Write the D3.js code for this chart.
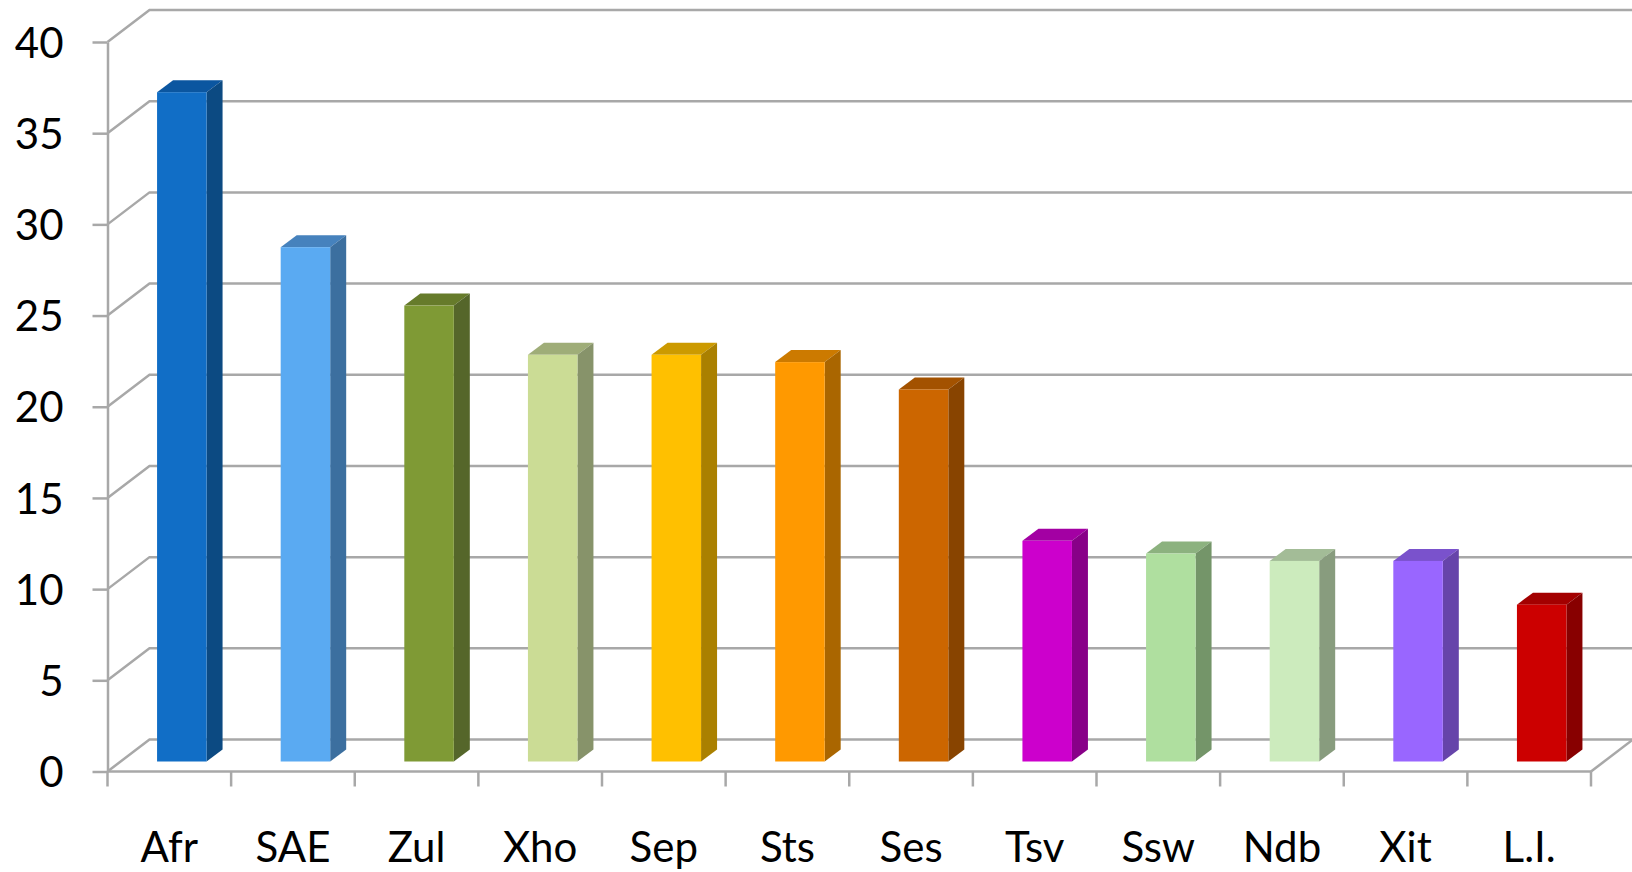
<!DOCTYPE html>
<html>
<head>
<meta charset="utf-8">
<script src="https://cdn.jsdelivr.net/npm/d3@7"></script>
<style>
  html, body { margin: 0; padding: 0; background: #fff; overflow: hidden; }
  svg { display: block; }
  text { font-family: Lato, "Open Sans", sans-serif; fill: #000; }
</style>
</head>
<body>
<svg id="chart" width="1632" height="872"></svg>
<script>
// Languages and their shares
const categories = ["Afr", "SAE", "Zul", "Xho", "Sep", "Sts", "Ses", "Tsv", "Ssw", "Ndb", "Xit", "L.I."];
const values = [36.7, 28.2, 25.0, 22.3, 22.3, 21.9, 20.4, 12.1, 11.4, 11.0, 11.0, 8.6];
const yTicks = [0, 5, 10, 15, 20, 25, 30, 35, 40];
const frontColors = ["#116ec6", "#5aaaf2", "#7f9a35", "#cbdc95", "#ffc000", "#ff9900", "#cc6600", "#cc00cc", "#afdf9f", "#ccebbd", "#9966ff", "#cc0000"];
const sideColors = ["#0c4a82", "#3c6f9f", "#55662a", "#87936a", "#aa8000", "#aa6600", "#884400", "#880088", "#749569", "#889c7e", "#6644aa", "#880000"];
const topColors = ["#0b56a0", "#4682bd", "#667b2b", "#9fad78", "#cc9a00", "#cc7a00", "#a35200", "#a300a3", "#8cb27f", "#a3bc97", "#7a52cc", "#a30000"];

const rows = categories.map((name, i) => ({
  name, value: values[i], front: frontColors[i], side: sideColors[i], top: topColors[i]
}));

// Oblique projection of the chart box
const plotLeft = 107.5, plotRight = 1591, plotBottom = 771.5, plotTop = 42;
const wallDx = 42, wallDy = 32;         // floor depth on screen
const barInsetDx = 12.5, barInsetDy = 10; // front face of a bar, set back from the floor edge
const barDx = 16, barDy = 12;           // depth of a bar
const barWidth = 49.5;
const gridColor = "#a8a8a8";
const gridWidth = 2.5;

const svg = d3.select("#chart");
const x = d3.scaleBand().domain(categories).range([plotLeft, plotRight]);
const y = d3.scaleLinear().domain([0, 40]).range([plotBottom, plotTop]);

const line = d3.line();
const walls = svg.append("g").attr("fill", "none").attr("stroke", gridColor).attr("stroke-width", gridWidth);

// Gridlines: along the back wall, then down the side wall to the axis
walls.selectAll("path.grid").data(yTicks).join("path")
  .attr("class", "grid")
  .attr("d", t => line([
    [1640, y(t) - wallDy],
    [plotLeft + wallDx, y(t) - wallDy],
    [plotLeft, y(t)]
  ]));

// Right edge of the floor
walls.append("path").attr("d", line([
  [plotRight, plotBottom],
  [plotRight + wallDx, plotBottom - wallDy]
]));

// Value axis
svg.append("g")
  .attr("transform", `translate(${plotLeft},0)`)
  .call(d3.axisLeft(y).tickValues(yTicks).tickSize(15).tickPadding(29).tickSizeOuter(0))
  .call(g => g.selectAll("line,path").attr("stroke", gridColor).attr("stroke-width", gridWidth))
  .call(g => g.selectAll("text").attr("font-size", 42).attr("dy", "0.36em").style("font-family", "Lato"));

// Category axis with ticks on the band edges
const xAxis = svg.append("g").attr("transform", `translate(0,${plotBottom})`);
xAxis.append("line")
  .attr("x1", plotLeft).attr("x2", plotRight)
  .attr("stroke", gridColor).attr("stroke-width", gridWidth);
xAxis.selectAll("line.edge").data(d3.range(categories.length + 1)).join("line")
  .attr("class", "edge")
  .attr("x1", i => plotLeft + i * x.step()).attr("x2", i => plotLeft + i * x.step())
  .attr("y1", 0).attr("y2", 15)
  .attr("stroke", gridColor).attr("stroke-width", gridWidth);
xAxis.selectAll("text").data(categories).join("text")
  .attr("x", d => x(d) + x.bandwidth() / 2)
  .attr("y", 90.5)
  .attr("text-anchor", "middle")
  .attr("font-size", 42)
  .text(d => d);

// Bars: top, side and front face of each box
const bars = svg.append("g").selectAll("g").data(rows).join("g");
const frontLeft = d => x(d.name) + x.bandwidth() / 2 + barInsetDx - barWidth / 2;
const base = plotBottom - barInsetDy;
const topY = d => y(d.value) - barInsetDy;

bars.append("path").attr("fill", d => d.top).attr("d", d => {
  const l = frontLeft(d), t = topY(d);
  return line([[l, t], [l + barDx, t - barDy], [l + barWidth + barDx, t - barDy], [l + barWidth, t]]) + "Z";
});
bars.append("path").attr("fill", d => d.side).attr("d", d => {
  const r = frontLeft(d) + barWidth, t = topY(d);
  return line([[r, t], [r + barDx, t - barDy], [r + barDx, base - barDy], [r, base]]) + "Z";
});
bars.append("rect").attr("fill", d => d.front)
  .attr("x", frontLeft)
  .attr("y", topY)
  .attr("width", barWidth)
  .attr("height", d => base - topY(d));
</script>
</body>
</html>
